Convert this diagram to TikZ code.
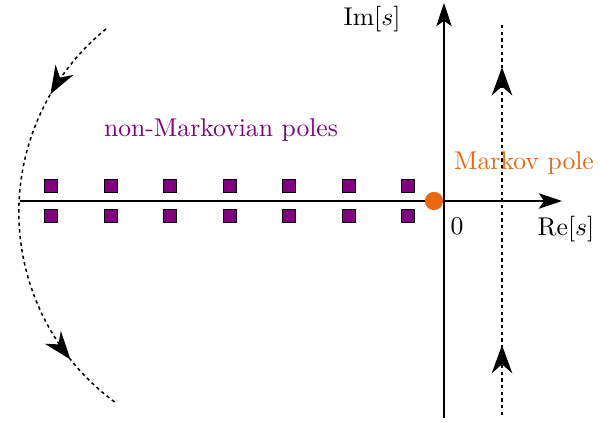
\documentclass[tikz,border=0pt]{standalone}
\usepackage{xcolor}
\definecolor{poleOrange}{HTML}{E8670F}
\definecolor{polePurple}{HTML}{800080}
\usepackage{tikz}
\usetikzlibrary{
    arrows.meta,
    decorations.markings,
    positioning
}
\tikzset{
    % Axes of the complex plane
    axis/.style={
        line width=0.8pt,
        -{Stealth[length=9pt, width=6pt, inset=2pt]},
    },
    % Integration contour - fine dashes
    contour/.style={
        line width=0.6pt,
        dash pattern=on 1.3pt off 1.3pt,
    },
    % Arrowheads placed along a path
    contour arrows/.style 2 args={
        postaction={decorate},
        decoration={
            markings,
            mark=at position #1 with {\arrow{Stealth[length=11pt, width=8pt, inset=3.5pt]}},
            mark=at position #2 with {\arrow{Stealth[length=11pt, width=8pt, inset=3.5pt]}}
        },
    },
    % Non-Markovian poles - small filled squares
    nmpole/.style={
        rectangle,
        draw=black,
        line width=0.3pt,
        fill=polePurple,
        minimum size=0.178cm,
        inner sep=0pt,
    },
    % Markov pole - orange dot
    mpole/.style={
        circle,
        fill=poleOrange,
        minimum size=0.25cm,
        inner sep=0pt,
    },
    % Text labels
    axis label/.style={
        font=\normalsize,
        text=black,
        inner sep=1pt,
    },
}

\begin{document}
\begin{tikzpicture}[x=0.0137cm, y=0.0137cm]
    \useasboundingbox (0,0) rectangle (615,422);

    % axes
    \coordinate (reLeft) at (20,221);
    \coordinate (reRight) at (562,221);
    \coordinate (imBottom) at (444,4);
    \coordinate (imTop) at (444,419);
    \draw [axis] (reLeft) -- (reRight);
    \draw [axis] (imBottom) -- (imTop);

    \node (imLabel) [axis label] at (372,403) {Im$[s]$};
    \node (reLabel) [axis label] at (566,193) {Re$[s]$};
    \node (origin) [axis label] at (457,196) {$0$};

    % vertical part of the contour
    \coordinate (contBottom) at (502,7);
    \coordinate (contTop) at (502,400);
    \draw [contour, contour arrows={0.178}{0.885}] (contBottom) -- (contTop);

    % closing arc on the left
    \coordinate (arcStart) at (106,393);
    \draw [contour, contour arrows={0.2}{0.855}] (arcStart)
        arc[start angle=129.1, end angle=233.8, radius=236];

    % poles
    \foreach \k in {0,...,6} {
        \node (up\k) [nmpole] at (51+59.5*\k,236) {};
        \node (dn\k) [nmpole] at (51+59.5*\k,206) {};
    }
    \node (markov) [mpole] at (434,221) {};

    \node (nmText) [text=polePurple] at (221,292) {non-Markovian poles};
    \node (mText) [text=poleOrange] at (524,259) {Markov pole};
\end{tikzpicture}
\end{document}
